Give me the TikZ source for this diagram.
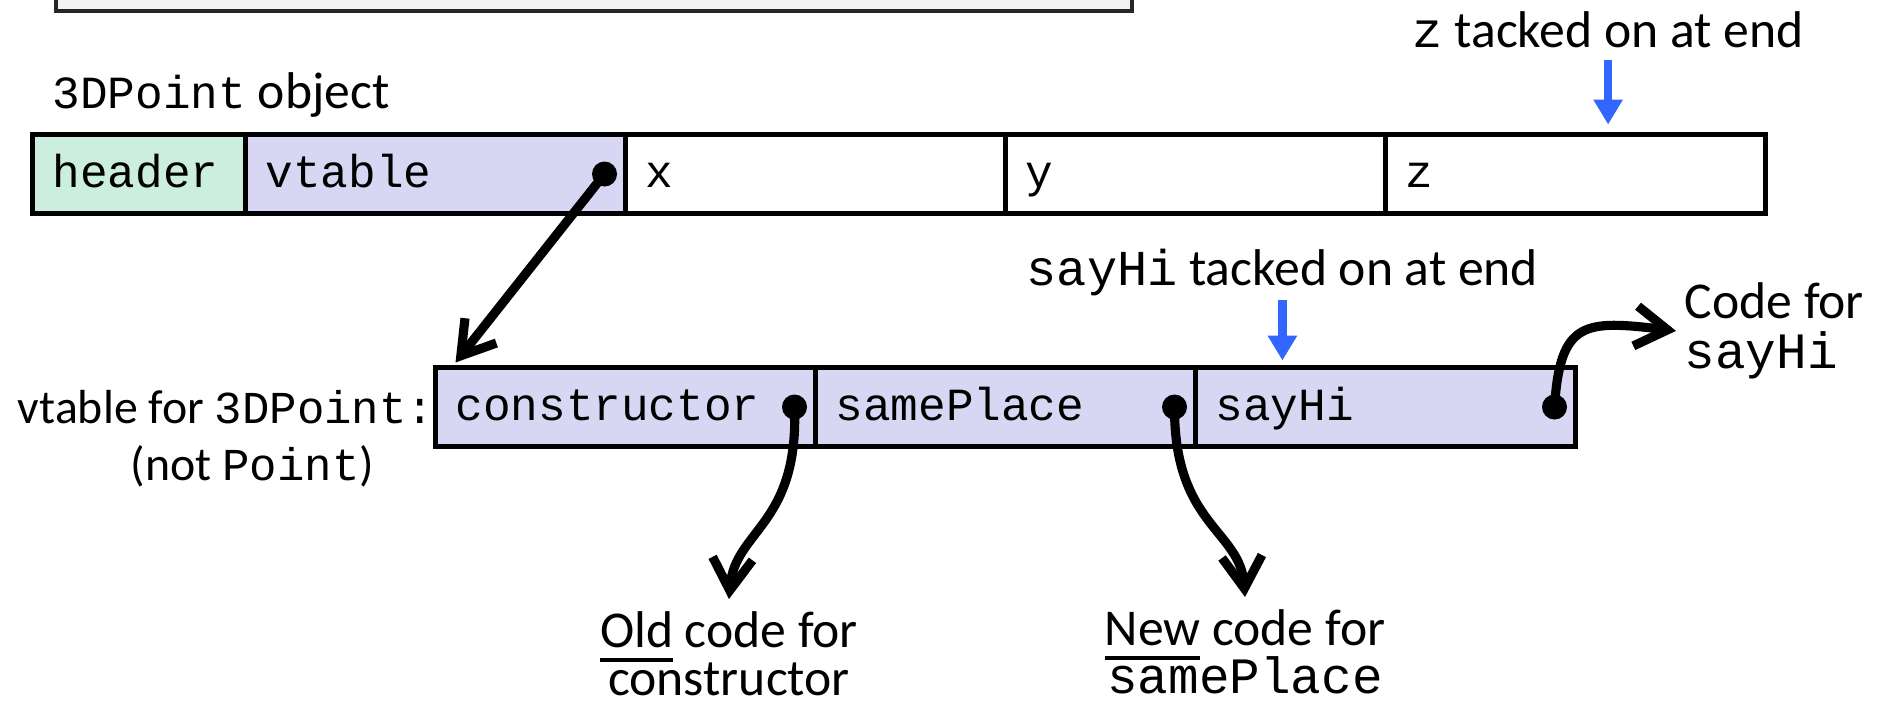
\documentclass[tikz,border=0pt]{standalone}
\usepackage{fontspec}
\setmainfont{Carlito}
\setmonofont{Liberation Mono}
\definecolor{hdrgreen}{RGB}{204, 238, 222}
\definecolor{vtlilac}{RGB}{215, 215, 243}
\definecolor{addblue}{RGB}{51, 102, 255}
\definecolor{framegrey}{RGB}{242, 242, 242}
\usetikzlibrary{arrows.meta, positioning}
\newcommand{\code}[2][13.1pt]{{\fontsize{#1}{#1}\selectfont\ttfamily #2}}
\newcommand{\under}[1]{\raisebox{0pt}[\height][0pt]{$\fontdimen8\textfont3=1pt\underline{\hbox{#1}}$}}
\tikzset{
  cell/.style={draw, line width=1.5pt, outer sep=0pt, inner xsep=0.2cm, minimum height=0.79cm,
    text height=9pt, text depth=1.6pt, text width=3.40cm, font=\fontsize{13.1pt}{15pt}\selectfont\ttfamily},
  ptrdot/.style={circle, fill=black, inner sep=0pt, minimum size=0.25cm},
  ptr/.style={line width=2.6pt, line cap=round, -{Straight Barb[length=0.32cm, width=0.4cm]}},
  addarrow/.style={draw=addblue, line width=2.4pt, -{Triangle[length=0.25cm, width=0.28cm]}},
  lbl/.style={inner sep=0pt, font=\fontsize{14.7pt}{15pt}\selectfont},
}

\begin{document}
\begin{tikzpicture}
  \useasboundingbox (0,0) rectangle (18.89,-7.01);

  % box left over from the slide above
  \node[draw=black!85, fill=framegrey, line width=1pt, minimum width=10.76cm, minimum height=1cm,
    inner sep=0pt, anchor=south west] (prevbox) at (0.54,-0.13) {};

  % 3DPoint object
  \node[lbl, anchor=base west] (objlbl) at (0.52,-1.08) {\code{3DPoint} object};
  \node[cell, fill=hdrgreen, text width=1.73cm, anchor=west] (hdr) at (0.325,-1.74) {header};
  \node[cell, fill=vtlilac, right=0pt of hdr] (vtp) {vtable};
  \node[cell, right=0pt of vtp] (fx) {x};
  \node[cell, right=0pt of fx] (fy) {y};
  \node[cell, right=0pt of fy] (fz) {z};

  \node[lbl, anchor=base west] (ztag) at (14.12,-0.47) {\code[14.3pt]{z} tacked on at end};
  \draw[addarrow, shorten <=0.12cm, shorten >=0.1cm] (ztag) -- (ztag |- fz.north);

  % vtable for 3DPoint
  \node[cell, fill=vtlilac, anchor=west] (ct) at (4.355,-4.07) {constructor};
  \node[cell, fill=vtlilac, right=0pt of ct] (sp) {samePlace};
  \node[cell, fill=vtlilac, right=0pt of sp] (sh) {sayHi};

  \node[lbl, font=\fontsize{13.6pt}{16.2pt}\selectfont, align=center, anchor=north] (vtlbl) at (2.26,-3.9)
    {vtable for \code[13pt]{3DPoint:}\\\hspace*{0.53cm}(not \code[13pt]{Point})};

  \node[lbl, anchor=base west] (shtag) at (10.26,-2.85) {\code[14.3pt]{sayHi} tacked on at end};
  \draw[addarrow, shorten <=0.04cm, shorten >=0.07cm] (shtag) -- (shtag |- sh.north);

  % pointers
  \foreach \c/\d in {vtp/vdot, ct/cdot, sp/spdot, sh/shdot}
    \node[ptrdot] (\d) at ([xshift=-0.21cm]\c.east) {};

  \node[lbl, inner sep=0.12cm, align=center, anchor=north, font=\fontsize{14.7pt}{13.5pt}\selectfont] (oldlbl) at (7.29,-5.99)
    {\under{Old} code for\\constructor};
  \node[lbl, inner sep=0.12cm, align=center, anchor=north, font=\fontsize{14.7pt}{13.5pt}\selectfont] (newlbl) at (12.45,-5.97)
    {\under{New} code for\\\code[14.5pt]{samePlace}};
  \node[lbl, inner sep=0.08cm, align=left, anchor=north west, font=\fontsize{14.7pt}{14.2pt}\selectfont] (codelbl) at (16.76,-2.74)
    {Code for\\\code[14.5pt]{sayHi}};

  \draw[ptr] (vdot.center) -- ([xshift=0.2cm, yshift=0.05cm]ct.north west);
  \draw[ptr] (cdot.center) .. controls (7.99,-5.25) and (7.35,-5.3) .. (oldlbl.north);
  \draw[ptr] (spdot.center) .. controls (11.74,-5.25) and (12.4,-5.3) .. (newlbl.north);
  \draw[ptr] (shdot.center) .. controls (15.6,-3.2) and (15.85,-3.2) .. (codelbl.west);
\end{tikzpicture}
\end{document}
